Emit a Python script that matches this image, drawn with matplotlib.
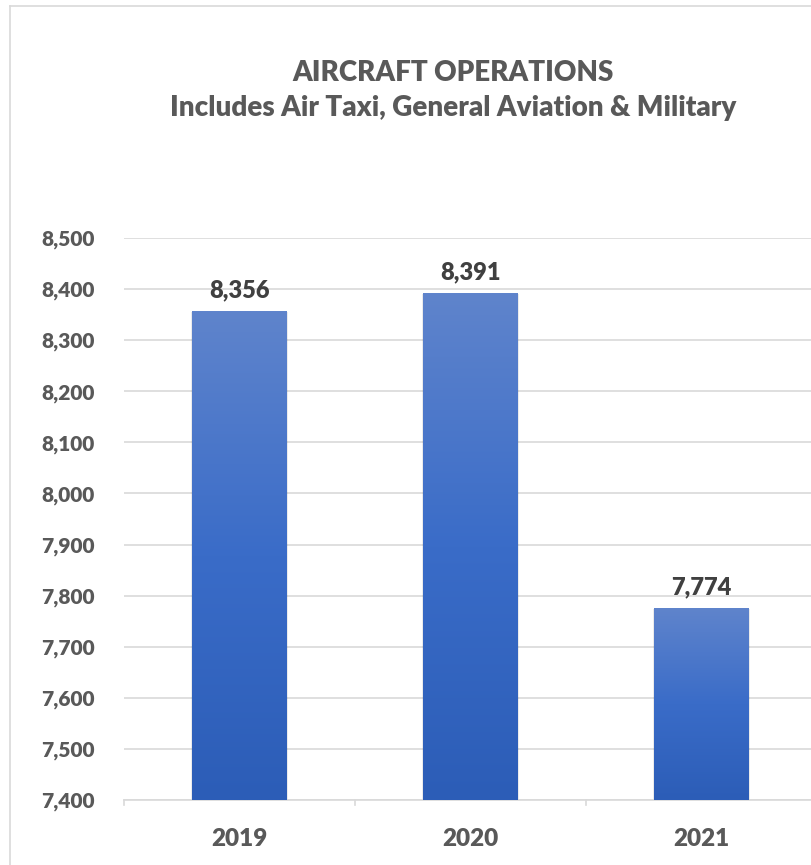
import matplotlib
matplotlib.use("Agg")
import matplotlib.pyplot as plt
import numpy as np
from matplotlib.colors import LinearSegmentedColormap
from matplotlib.lines import Line2D

# -----------------------------------------------------------
# Daten
# -----------------------------------------------------------
years = ["2019", "2020", "2021"]
operations = [8356, 8391, 7774]
y_ticks = [7400, 7500, 7600, 7700, 7800, 7900, 8000, 8100, 8200, 8300, 8400, 8500]

title_line1 = "AIRCRAFT OPERATIONS"
title_line2 = "Includes Air Taxi, General Aviation & Military"

plt.rcParams["font.family"] = ["Lato", "DejaVu Sans"]
WEIGHT = "heavy"

W, H = 811, 865
fig = plt.figure(figsize=(W / 100, H / 100), dpi=100)

# axes extends a bit past the right edge (chart is cut off in the reference)
left_px, right_px = 124, 817
bottom_px, top_px = 800, 238
ax = fig.add_axes([left_px / W, 1 - bottom_px / H,
                   (right_px - left_px) / W, (bottom_px - top_px) / H])

x = np.arange(len(years))
bar_w = 0.41
ymin, ymax = 7400, 8500

cmap = LinearSegmentedColormap.from_list("grad", ["#2C5DB7", "#3A6CC8", "#5F84CC"])
grad = np.linspace(0, 1, 256).reshape(-1, 1)

for xi, v in zip(x, operations):
    # leichte Schattenkante
    ax.bar(xi, v - ymin, bottom=ymin, width=bar_w + 0.012, color="#000000",
           alpha=0.08, zorder=2)
    ax.imshow(grad, extent=(xi - bar_w / 2, xi + bar_w / 2, ymin, v),
              origin="lower", cmap=cmap, aspect="auto", zorder=3)
    ax.text(xi, v + 20, f"{v:,}", ha="center", va="bottom", fontsize=17,
            fontweight=WEIGHT, color="#404040", zorder=4)

ax.set_xlim(-0.5, len(years) - 0.5)
ax.set_ylim(ymin, ymax)
ax.set_aspect("auto")

ax.set_yticks(y_ticks)
ax.set_yticklabels([f"{t:,}" for t in y_ticks], fontsize=15,
                   fontweight=WEIGHT, color="#595959")
ax.set_xticks(x)
ax.set_xticklabels(years, fontsize=17.5, fontweight=WEIGHT, color="#595959")
ax.tick_params(axis="y", length=0, pad=21)
ax.tick_params(axis="x", length=0, pad=20)

# Kategorie-Trennstriche an der x-Achse
for b in np.arange(-0.5, len(years), 1.0):
    ax.plot([b, b], [ymin, ymin - 10], color="#D9D9D9", lw=1.2,
            clip_on=False, zorder=1)

ax.grid(axis="y", color="#D9D9D9", lw=1.2, zorder=0)
ax.set_axisbelow(True)
for s in ["top", "right", "left"]:
    ax.spines[s].set_visible(False)
ax.spines["bottom"].set_color("#D9D9D9")
ax.spines["bottom"].set_linewidth(1.2)

# Titel
fig.text(453 / W, 1 - 73 / H, title_line1, ha="center", va="center",
         fontsize=20, fontweight=WEIGHT, color="#595959")
fig.text(453 / W, 1 - 108 / H, title_line2, ha="center", va="center",
         fontsize=20, fontweight=WEIGHT, color="#595959")

# Rahmen des Diagrammbereichs
fig.add_artist(Line2D([10 / W, 10 / W], [0, 1 - 6 / H], color="#D9D9D9", lw=1.2))
fig.add_artist(Line2D([10 / W, 1], [1 - 6 / H, 1 - 6 / H], color="#D9D9D9", lw=1.2))

fig.savefig("out.png", dpi=100, facecolor="white")
